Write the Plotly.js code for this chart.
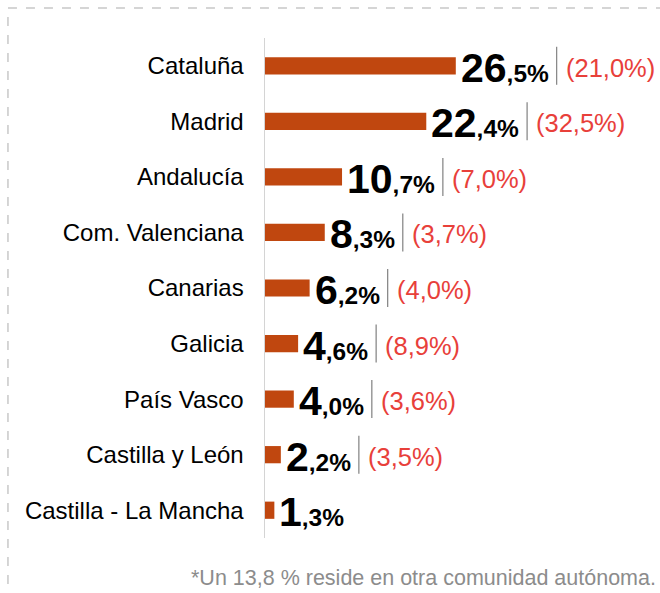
<!DOCTYPE html>
<html>
<head>
<meta charset="utf-8">
<script src="https://cdn.plot.ly/plotly-3.0.1.min.js"></script>
<style>html,body{margin:0;padding:0;background:#fff;}#chart{width:660px;height:593px;}</style>
</head>
<body>
<div id="chart"></div>
<script>
var categories = ["Cataluña", "Madrid", "Andalucía", "Com. Valenciana", "Canarias", "Galicia", "País Vasco", "Castilla y León", "Castilla - La Mancha"];
var values = [26.5, 22.4, 10.7, 8.3, 6.2, 4.6, 4.0, 2.2, 1.3];
var intLabels = ["26", "22", "10", "8", "6", "4", "4", "2", "1"];
var decLabels = [",5%", ",4%", ",7%", ",3%", ",2%", ",6%", ",0%", ",2%", ",3%"];
var otherLabels = ["(21,0%)", "(32,5%)", "(7,0%)", "(3,7%)", "(4,0%)", "(8,9%)", "(3,6%)", "(3,5%)", ""];
var footnote = "*Un 13,8 % reside en otra comunidad autónoma.";

var FONT = "'Liberation Sans', Arial, sans-serif";
var BIG = 41, SMALL = 24.5, RED = 25.5;
var canvas = document.createElement("canvas");
var ctx = canvas.getContext("2d");
function textWidth(t, size, bold) {
  ctx.font = (bold ? "bold " : "") + size + "px 'Liberation Sans', Arial, sans-serif";
  return ctx.measureText(t).width;
}

var annotations = [];
var shapes = [];
var XSHIFT = 3;
categories.forEach(function (c, i) {
  annotations.push({
    x: values[i], y: c, xref: "x", yref: "y",
    xanchor: "left", yanchor: "middle", xshift: XSHIFT, yshift: -2,
    showarrow: false, align: "left",
    text: "<b><span style='font-size:" + BIG + "px'>" + intLabels[i] + "</span>" + decLabels[i] + "</b>",
    font: {family: FONT, size: SMALL, color: "#000000"}
  });
  if (otherLabels[i]) {
    var w = textWidth(intLabels[i], BIG, true) + textWidth(decLabels[i], SMALL, true);
    var sepX = XSHIFT + w + 10;
    shapes.push({
      type: "line", xref: "x", yref: "y",
      xsizemode: "pixel", xanchor: values[i], x0: sepX, x1: sepX,
      ysizemode: "pixel", yanchor: i, y0: -19, y1: 19,
      line: {color: "#8a8a8a", width: 1.3}
    });
    annotations.push({
      x: values[i], y: c, xref: "x", yref: "y",
      xanchor: "left", yanchor: "middle", xshift: sepX + 7, yshift: -2,
      showarrow: false, align: "left",
      text: otherLabels[i],
      font: {family: FONT, size: RED, color: "#e8403a"}
    });
  }
});

annotations.push({
  x: 1.0917, y: -0.08, xref: "paper", yref: "paper",
  xanchor: "right", yanchor: "middle", showarrow: false,
  text: footnote,
  font: {family: FONT, size: 21.5, color: "#8c8c8c"}
});

shapes.push({
  type: "path", xref: "paper", yref: "paper",
  path: "M -0.714 -0.2 L -0.714 1.06 L 1.2 1.06",
  line: {color: "#c8c8c8", width: 1.5, dash: "dash"}
});

var trace = {
  type: "bar", orientation: "h",
  x: values, y: categories,
  width: 0.31,
  marker: {color: "#c0470f"},
  hoverinfo: "none"
};

var layout = {
  width: 660, height: 593,
  margin: {l: 265, r: 35, t: 38, b: 55},
  paper_bgcolor: "#ffffff", plot_bgcolor: "#ffffff",
  showlegend: false,
  xaxis: {range: [0, 50], visible: false, fixedrange: true},
  yaxis: {
    type: "category", autorange: false, range: [8.5, -0.5],
    showline: true, linecolor: "#d4d4d4", linewidth: 1.5,
    showgrid: false, zeroline: false, ticks: "",
    ticklabelstandoff: 15,
    tickfont: {family: FONT, size: 24, color: "#000000"}
  },
  annotations: annotations,
  shapes: shapes
};

Plotly.newPlot("chart", [trace], layout, {displayModeBar: false, staticPlot: true});
</script>
</body>
</html>
